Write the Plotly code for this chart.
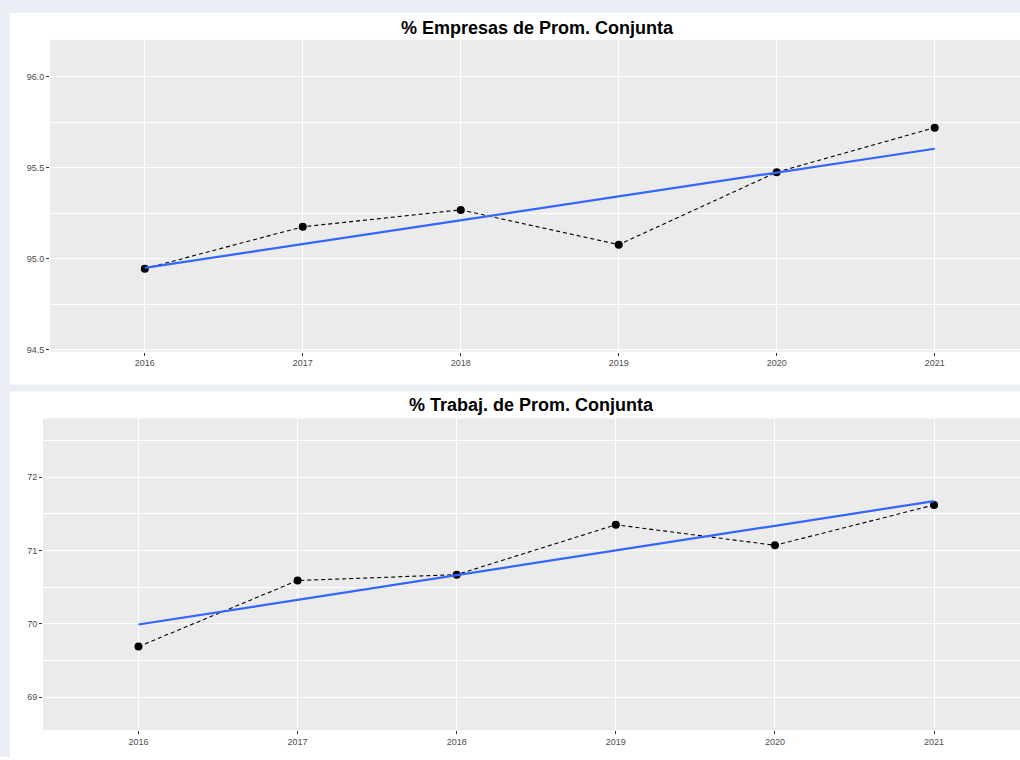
import numpy as np
import plotly.graph_objects as go

years = [2016, 2017, 2018, 2019, 2020, 2021]
empresas = [94.945, 95.175, 95.268, 95.077, 95.475, 95.72]
trabaj = [69.69, 70.59, 70.67, 71.35, 71.07, 71.62]
title_top = "% Empresas de Prom. Conjunta"
title_bot = "% Trabaj. de Prom. Conjunta"

W, H = 1020, 760
def px(x):
    return x / W
def py(y):
    return 1 - y / H

fig = go.Figure()

def add_panel(vals, xa, ya):
    xr = np.array(years, dtype=float)
    coef = np.polyfit(xr, np.array(vals), 1)
    fit = np.polyval(coef, xr[[0, -1]])
    fig.add_trace(go.Scatter(x=years, y=vals, mode="lines+markers",
                             line=dict(color="black", width=1.1, dash="4px,3px"),
                             marker=dict(color="black", size=8),
                             xaxis=xa, yaxis=ya, showlegend=False,
                             hoverinfo="x+y"))
    fig.add_trace(go.Scatter(x=[years[0], years[-1]], y=list(fit), mode="lines",
                             line=dict(color="#3366FF", width=2.2),
                             xaxis=xa, yaxis=ya, showlegend=False))

add_panel(empresas, "x", "y")
add_panel(trabaj, "x2", "y2")

tickfont = dict(family="Liberation Sans", size=9, color="#4d4d4d")
common_x = dict(range=[2015.4, 2021.54], tickvals=years, ticks="outside", ticklen=3,
                tickcolor="#333333", tickwidth=1, tickfont=tickfont,
                showgrid=True, gridcolor="white", gridwidth=1.2, zeroline=False,
                showline=False)
common_y = dict(ticks="outside", ticklen=3, tickcolor="#333333", tickwidth=1,
                tickfont=tickfont, showgrid=True, gridcolor="white", gridwidth=1.2,
                zeroline=False, showline=False)

fig.update_layout(
    width=W, height=H,
    margin=dict(l=0, r=0, t=0, b=0),
    paper_bgcolor="white",
    plot_bgcolor="#ebebeb",
    xaxis=dict(domain=[px(50), 1.0], anchor="y", **common_x),
    yaxis=dict(domain=[py(353), py(40)], anchor="x", range=[94.489, 96.2026],
               tickvals=[94.5, 95.0, 95.5, 96.0], ticktext=["94.5", "95.0", "95.5", "96.0"],
               minor=dict(tickvals=[94.75, 95.25, 95.75, 96.25], showgrid=True,
                          gridcolor="white", gridwidth=0.6, ticks=""),
               **common_y),
    xaxis2=dict(domain=[px(43), 1.0], anchor="y2", **common_x),
    yaxis2=dict(domain=[py(733), py(420)], anchor="x2", range=[68.552, 72.80],
                tickvals=[69, 70, 71, 72],
                minor=dict(tickvals=[68.5, 69.5, 70.5, 71.5, 72.5], showgrid=True,
                           gridcolor="white", gridwidth=0.6, ticks=""),
                **common_y),
    hovermode="closest",
)

band = "#eaeef4"
shapes = [
    dict(type="rect", xref="paper", yref="paper", x0=0, x1=px(10), y0=0, y1=1,
         fillcolor=band, line=dict(width=0), layer="below"),
    dict(type="rect", xref="paper", yref="paper", x0=0, x1=1, y0=py(13), y1=1,
         fillcolor=band, line=dict(width=0), layer="below"),
    dict(type="rect", xref="paper", yref="paper", x0=0, x1=1, y0=py(393), y1=py(386),
         fillcolor=band, line=dict(width=0), layer="below"),
]
fig.update_layout(shapes=shapes)

fig.add_annotation(text="<b>" + title_top + "</b>", xref="paper", yref="paper",
                   x=px(537), y=py(28), showarrow=False, xanchor="center", yanchor="middle",
                   font=dict(family="Liberation Sans", size=18, color="black"))
fig.add_annotation(text="<b>" + title_bot + "</b>", xref="paper", yref="paper",
                   x=px(531), y=py(407), showarrow=False, xanchor="center", yanchor="middle",
                   font=dict(family="Liberation Sans", size=18, color="black"))

fig.write_html("out.html",
               config={"displayModeBar": False, "responsive": False},
               post_script="document.body.style.margin='0';document.body.style.padding='0';document.body.style.overflow='hidden';")
